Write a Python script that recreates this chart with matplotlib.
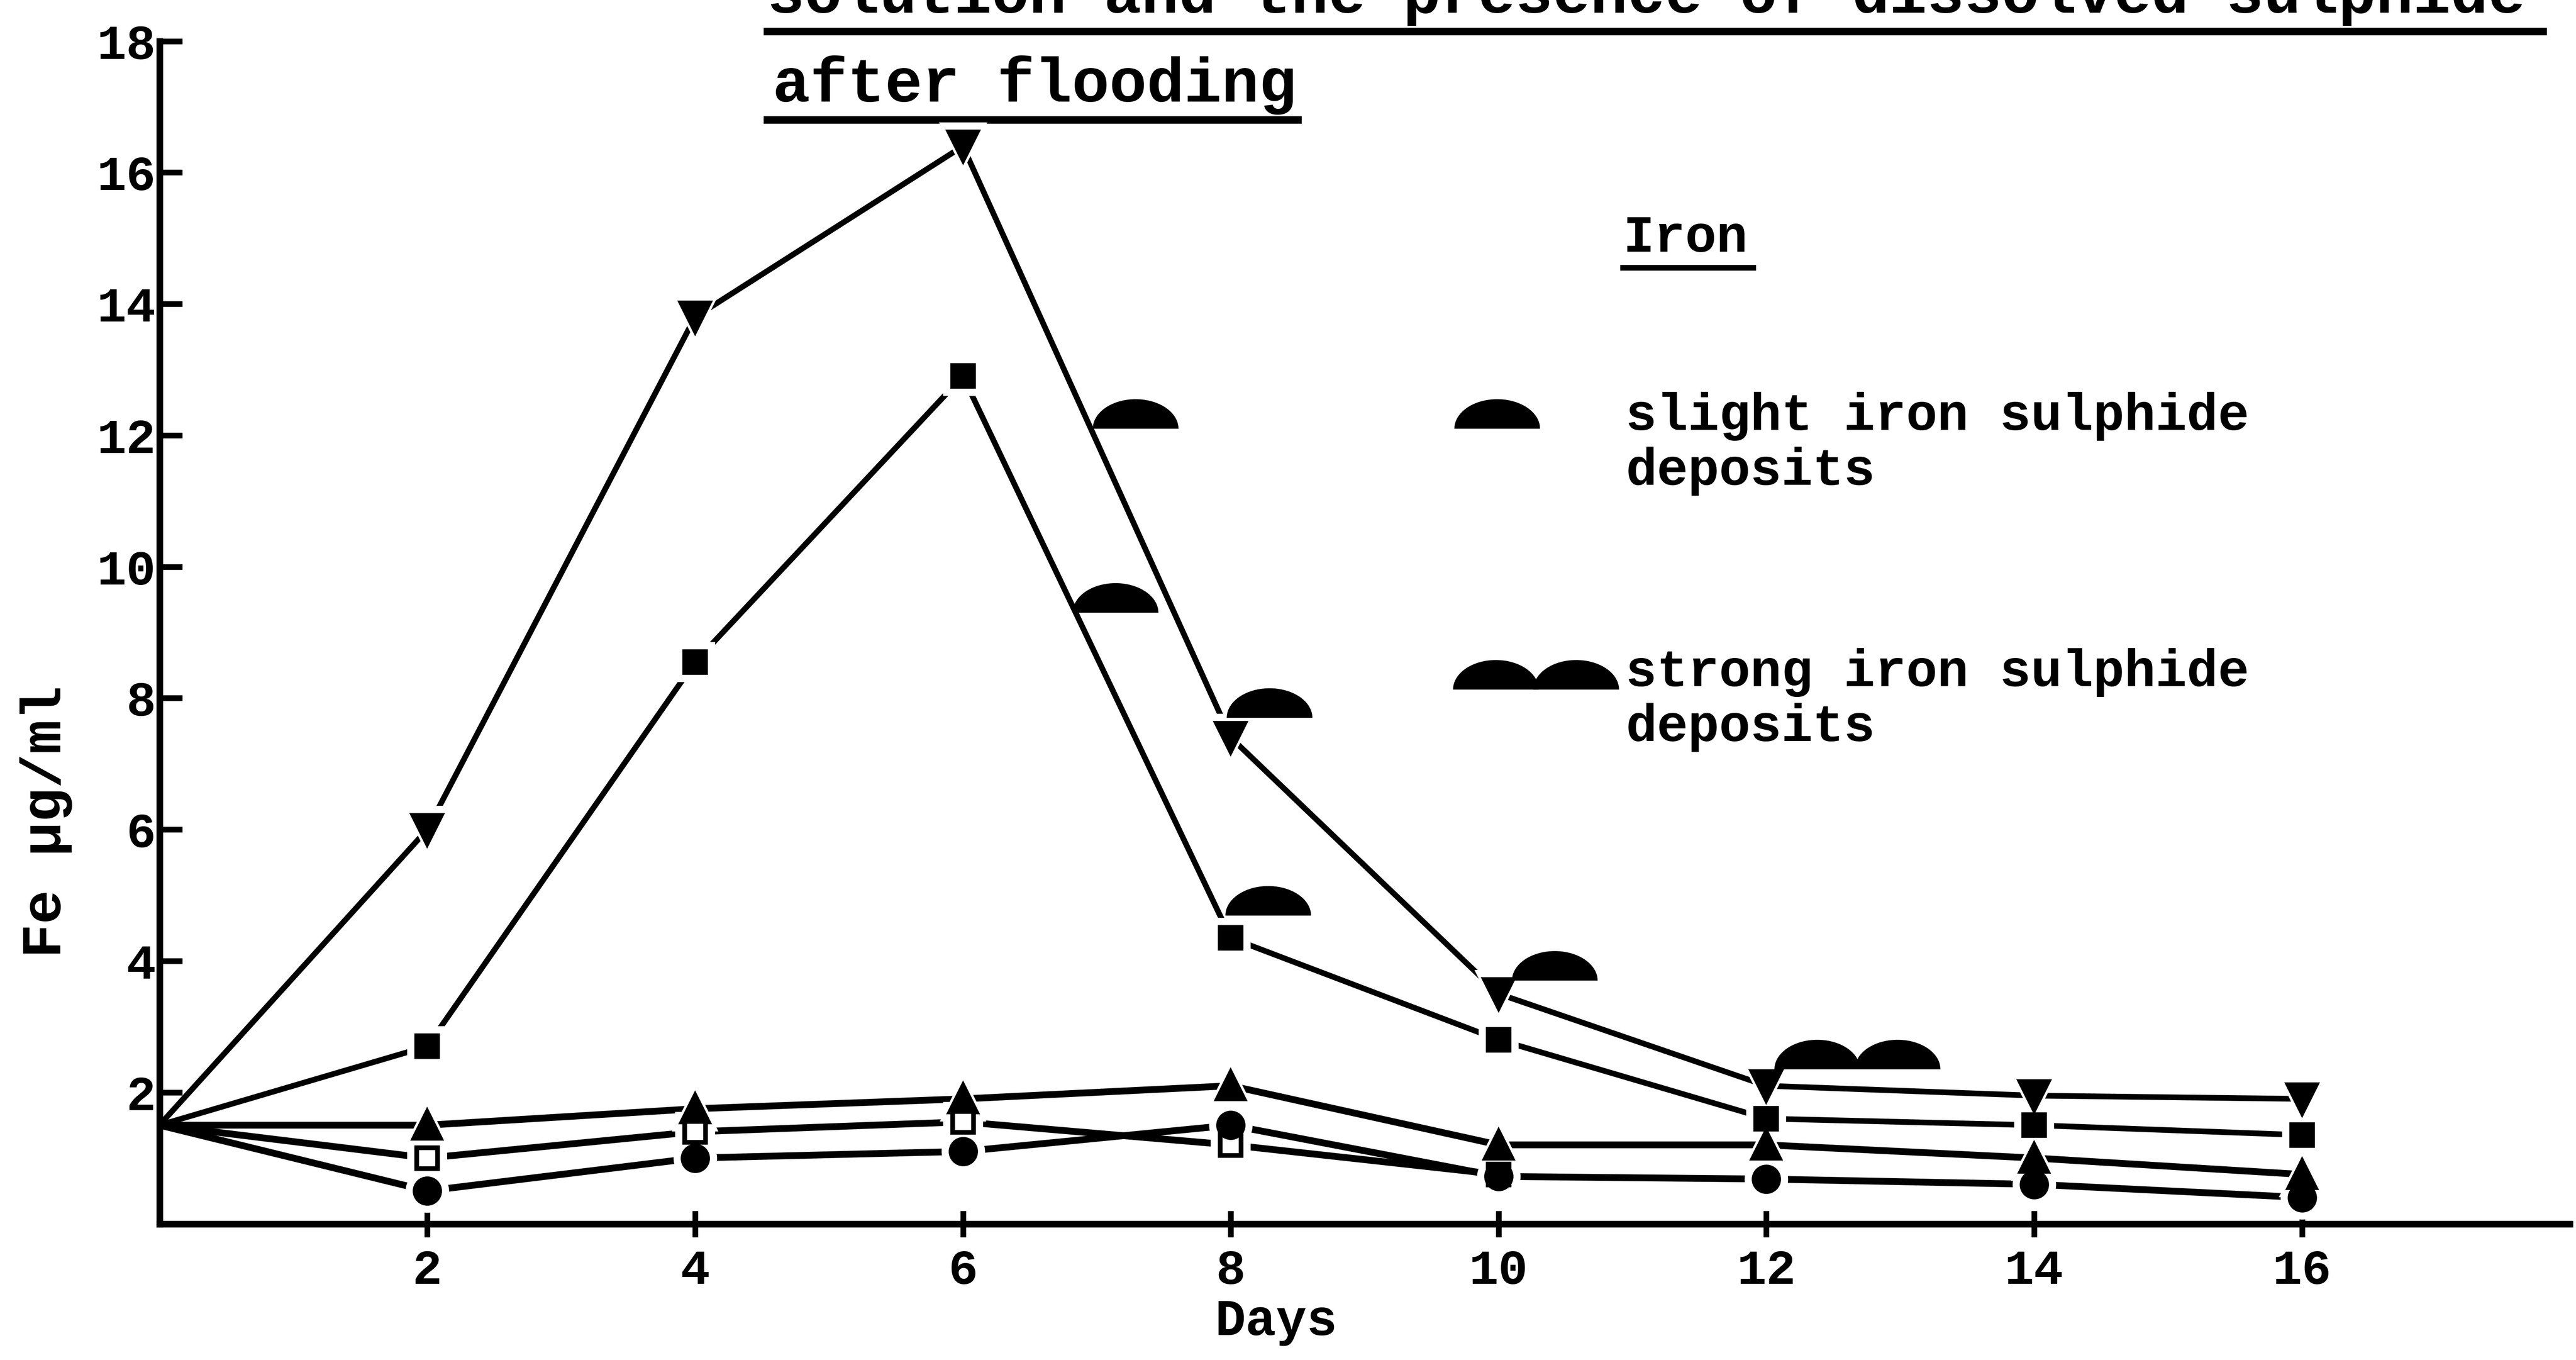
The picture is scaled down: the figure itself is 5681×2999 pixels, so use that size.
import numpy as np
import matplotlib
matplotlib.use('Agg')
import matplotlib.pyplot as plt

# days after flooding
days = [0, 2, 4, 6, 8, 10, 12, 14, 16]
days_open = [0, 2, 4, 6, 8, 10]

# Fe ug/ml for each treatment
fe_tri_down = [1.5, 6.0, 13.8, 16.4, 7.4, 3.5, 2.1, 1.95, 1.9]
fe_sq_filled = [1.5, 2.7, 8.55, 12.9, 4.35, 2.8, 1.6, 1.5, 1.35]
fe_tri_up = [1.5, 1.5, 1.75, 1.9, 2.1, 1.2, 1.2, 1.0, 0.75]
fe_sq_open = [1.5, 1.0, 1.4, 1.55, 1.2, 0.75]
fe_circle = [1.5, 0.5, 1.0, 1.1, 1.5, 0.72, 0.68, 0.6, 0.4]

# iron sulphide deposit symbols: day, Fe level, number of domes
deposit_x = [7.29, 7.14, 8.29, 8.28, 10.42, 12.38]
deposit_y = [12.1, 9.3, 7.7, 4.69, 3.7, 2.35]
deposit_n = [1, 1, 1, 1, 1, 2]

xticks = [2, 4, 6, 8, 10, 12, 14, 16]
yticks = [2, 4, 6, 8, 10, 12, 14, 16, 18]

title1 = "solution and the presence of dissolved sulphide"
title2 = "after flooding"

FONT = ['Liberation Mono', 'DejaVu Sans Mono']
INK = '#000000'

fig = plt.figure(figsize=(5681 / 300, 2999 / 300), dpi=300)
ax = fig.add_axes([0.0619, 0.1002, 0.9357, 0.8696])


def dome(cx, base, n=1, hw=0.32, h=0.45):
    # half-round "deposit" symbol, n domes side by side
    t = np.linspace(0, np.pi, 40)
    for k in range(n):
        c = cx + k * 0.6
        ax.fill(c + hw * np.cos(t), base + h * np.sin(t), color=INK,
                lw=0, clip_on=False, zorder=5)


series = [
    (days, fe_tri_down, 'v', 15, INK, 3.0),
    (days, fe_sq_filled, 's', 11, INK, 3.0),
    (days, fe_tri_up, '^', 14, INK, 3.6),
    (days_open, fe_sq_open, 's', 11, 'white', 3.6),
    (days, fe_circle, 'o', 13, INK, 3.6),
]

# lines first
for x, y, m, ms, fc, lw in series:
    ax.plot(x, y, '-', color=INK, lw=lw, solid_capstyle='round', zorder=2)
# white halo round markers gives the gap look of the hand drawn lines
for x, y, m, ms, fc, lw in series:
    ax.plot(x[1:], y[1:], ls='none', marker=m, ms=ms + 9, color='white',
            mec='white', zorder=3)
for x, y, m, ms, fc, lw in series:
    ax.plot(x[1:], y[1:], ls='none', marker=m, ms=ms, mfc=fc, mec=INK,
            mew=2.5, zorder=4)

for dx, dy, n in zip(deposit_x, deposit_y, deposit_n):
    dome(dx, dy, n)

# key
ax.text(10.93, 15.0, "Iron", fontsize=27.5, family=FONT, fontweight='bold',
        ha='left', va='center')
ax.plot([10.93, 11.9], [14.55, 14.55], color=INK, lw=3)
dome(9.99, 12.1, 1)
ax.text(10.95, 11.87, "slight iron sulphide\ndeposits", fontsize=27.5,
        family=FONT, fontweight='bold', ha='left', va='center',
        linespacing=1.15)
dome(9.98, 8.13, 2)
ax.text(10.95, 7.97, "strong iron sulphide\ndeposits", fontsize=27.5,
        family=FONT, fontweight='bold', ha='left', va='center',
        linespacing=1.15)

# typed heading (top line is cut by the page edge)
ax.text(4.54, 18.43, title1, fontsize=33, family=FONT, fontweight='bold',
        ha='left', va='baseline', clip_on=False)
ax.plot([4.54, 17.8], [18.15, 18.15], color=INK, lw=4, clip_on=False)
ax.text(4.58, 17.08, title2, fontsize=33, family=FONT, fontweight='bold',
        ha='left', va='baseline', clip_on=False)
ax.plot([4.54, 8.5], [16.8, 16.8], color=INK, lw=4, clip_on=False)

ax.set_xlim(0, 18)
ax.set_ylim(0, 18)
ax.set_xticks(xticks)
ax.set_yticks(yticks)
ax.set_xticklabels([str(v) for v in xticks], family=FONT,
                   fontweight='bold', fontsize=26)
ax.set_yticklabels([str(v) for v in yticks], family=FONT,
                   fontweight='bold', fontsize=26)
ax.tick_params(axis='y', direction='in', length=12, width=3, pad=2)
ax.tick_params(axis='x', direction='inout', length=14, width=3, pad=6)

for s in ['top', 'right']:
    ax.spines[s].set_visible(False)
ax.spines['left'].set_linewidth(3.5)
ax.spines['bottom'].set_linewidth(3.5)

ax.text(-0.047, 0.34, "Fe µg/ml", transform=ax.transAxes, rotation=90,
        fontsize=30, family=FONT, fontweight='bold', ha='center', va='center')
ax.text(8.34, -0.083, "Days", transform=ax.get_xaxis_transform(),
        fontsize=27, family=FONT, fontweight='bold', ha='center', va='center')

fig.savefig('out.png', dpi=300, facecolor='white')
